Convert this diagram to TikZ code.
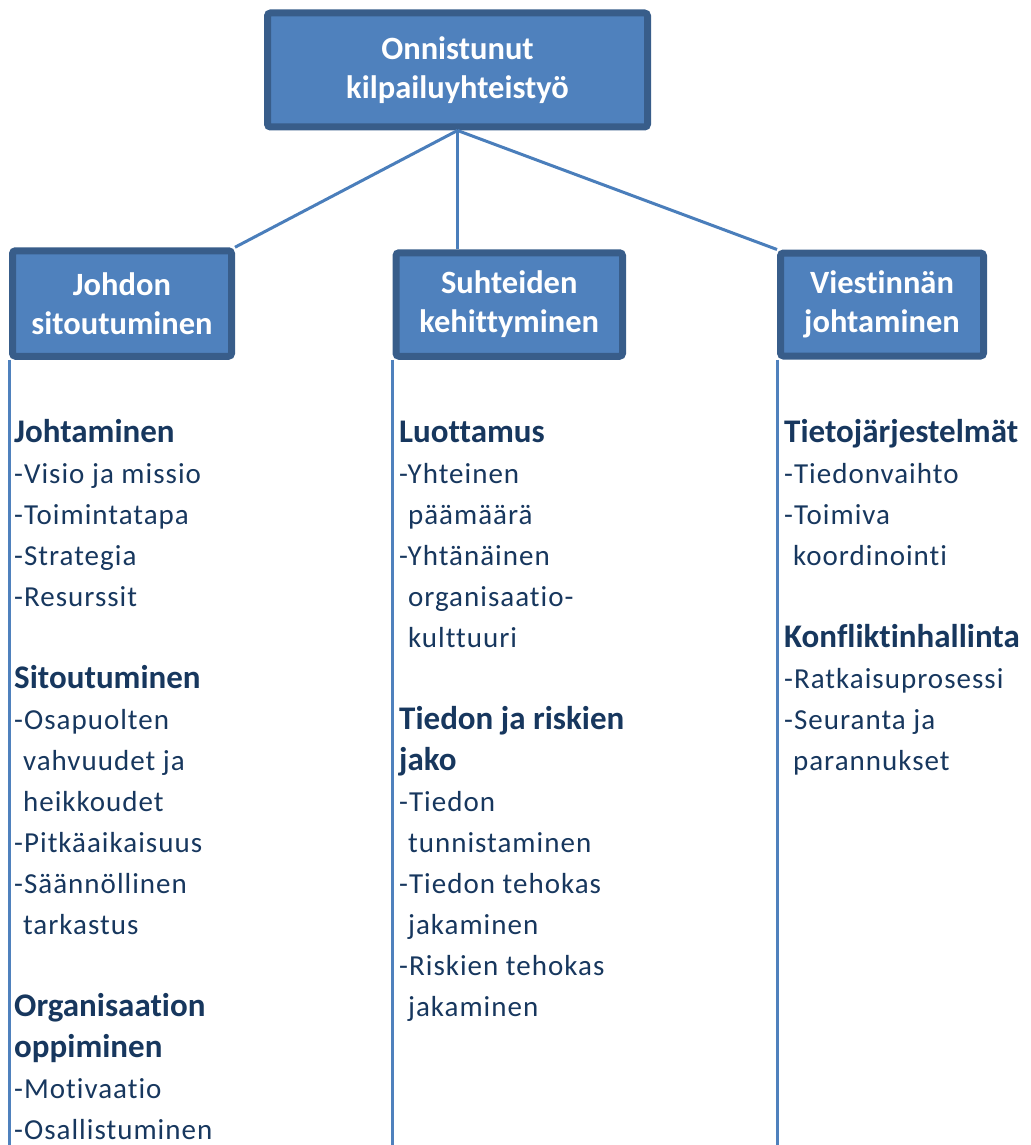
\documentclass[tikz,border=0pt]{standalone}
\usepackage{fontspec}
\setmainfont{Carlito}[Ligatures=NoCommon]
\newfontfamily\listfont{Carlito}[Ligatures=NoCommon, LetterSpace=3.5]
\usetikzlibrary{positioning}
\definecolor{boxfill}{HTML}{4F81BD}
\definecolor{boxline}{HTML}{385D8A}
\definecolor{linkline}{HTML}{4A7EBB}
\definecolor{listtext}{HTML}{17375E}
\newcommand{\ind}{\phantom{-}}
\newcommand{\hd}[1]{\rule{0pt}{30pt}{\normalfont\bfseries\fontsize{33}{41}\selectfont #1}}
\tikzset{
  headbox/.style={draw=boxline, line width=7pt, fill=boxfill, rounded corners=3pt,
    text=white, align=center, inner sep=0pt, font=\bfseries\fontsize{32.5}{39}\selectfont},
  link/.style={draw=linkline, line width=3pt},
  colline/.style={draw=boxfill, line width=3pt},
  listcol/.style={anchor=north west, inner sep=0pt, align=left, text=listtext,
    font=\listfont\fontsize{29}{41}\selectfont}
}
\begin{document}
\begin{tikzpicture}[x=1pt,y=-1pt]
\useasboundingbox (0,0) rectangle (1030,1145);
\coordinate (bottom) at (0,1145);

\node[headbox, minimum width=380pt, minimum height=114pt] (goal) at (457.5,70) {Onnistunut\\kilpailuyhteistyö};
\node[headbox, minimum width=219pt, minimum height=105.5pt] (johto) at (122,303.5) {Johdon\\sitoutuminen};
\node[headbox, minimum width=226.5pt, minimum height=103.5pt] (suhde) at (509.25,304.5) {Suhteiden\\kehittyminen};
\node[headbox, minimum width=203pt, minimum height=103pt] (viesti) at (882,304.5) {Viestinnän\\johtaminen};

\draw[link] (goal.south) -- (johto.north east);
\draw[link] (goal.south) -- (goal.south |- suhde.north);
\draw[link] (goal.south) -- (viesti.north west);

\draw[colline] (johto.south west) -- (johto.south west |- bottom);
\draw[colline] (suhde.south west) -- (suhde.south west |- bottom);
\draw[colline] (viesti.south west) -- (viesti.south west |- bottom);

\node[listcol] (johtoList) at (14,412) {\hd{Johtaminen}\\
-Visio ja missio\\
-Toimintatapa\\
-Strategia\\
-Resurssit\\[41pt]
\hd{Sitoutuminen}\\
-Osapuolten\\
\ind vahvuudet ja\\
\ind heikkoudet\\
-Pitkäaikaisuus\\
-Säännöllinen\\
\ind tarkastus\\[41pt]
\hd{Organisaation}\\
\hd{oppiminen}\\
-Motivaatio\\
-Osallistuminen};

\node[listcol] (suhdeList) at (399,412) {\hd{Luottamus}\\
-Yhteinen\\
\ind päämäärä\\
-Yhtänäinen\\
\ind organisaatio-\\
\ind kulttuuri\\[41pt]
\hd{Tiedon ja riskien}\\
\hd{jako}\\
-Tiedon\\
\ind tunnistaminen\\
-Tiedon tehokas\\
\ind jakaminen\\
-Riskien tehokas\\
\ind jakaminen};

\node[listcol] (viestiList) at (784,412) {\hd{Tietojärjestelmät}\\
-Tiedonvaihto\\
-Toimiva\\
\ind koordinointi\\[41pt]
\hd{Konfliktinhallinta}\\
-Ratkaisuprosessi\\
-Seuranta ja\\
\ind parannukset};
\end{tikzpicture}
\end{document}
